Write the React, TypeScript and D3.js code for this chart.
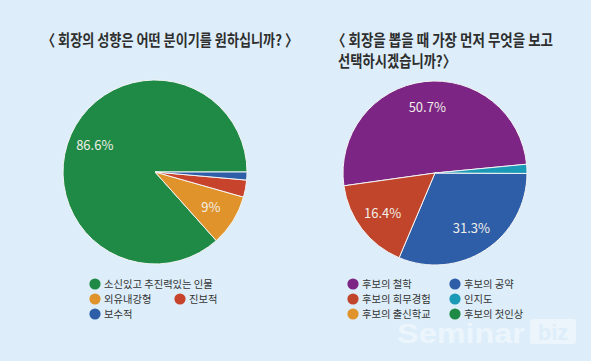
import { useEffect, useRef } from 'react'
import * as d3 from 'd3'

const W = 591
const H = 361
const FONT = '"Noto Sans CJK KR", "Noto Sans", sans-serif'

// left chart: 회장의 성향
const leftCategories = ['소신있고 추진력있는 인물', '외유내강형', '진보적', '보수적']
const leftValues = [86.6, 9.0, 3.0, 1.4]
const leftColors = ['#1f8a45', '#e0932b', '#c8432b', '#2f5ea9']
const leftLabels = ['86.6%', '9%', '', '']

// right chart: 가장 먼저 보는 것
const rightCategories = ['후보의 철학', '후보의 공약', '후보의 회무경험', '인지도', '후보의 출신학교', '후보의 첫인상']
const rightValues = [50.7, 31.3, 16.4, 1.6, 0, 0]
const rightColors = ['#7c2584', '#2f5ea9', '#c0452b', '#1a9ab6', '#e0932b', '#1f8a45']
const rightLabels = ['50.7%', '31.3%', '16.4%', '', '', '']
// clockwise drawing order of slices on the right pie
const rightOrder = [0, 3, 1, 2, 4, 5]

type Slice = { name: string; value: number; color: string; label: string; rank: number }

function makeSlices(names: string[], values: number[], colors: string[], labels: string[], order: number[]): Slice[] {
  return names.map((name, i) => ({ name, value: values[i], color: colors[i], label: labels[i], rank: order.indexOf(i) }))
}

export default function App() {
  const svgRef = useRef<SVGSVGElement>(null)

  useEffect(() => {
    if (!svgRef.current) return
    const svg = d3.select(svgRef.current)
    svg.selectAll('*').remove()

    svg.append('rect').attr('width', W).attr('height', H).attr('fill', '#ddeefa')

    const r = 92
    const arc = d3.arc<d3.PieArcDatum<Slice>>().innerRadius(0).outerRadius(r)
    const labelArc = d3.arc<d3.PieArcDatum<Slice>>().innerRadius(66 * 2 - r).outerRadius(r)

    const drawPie = (slices: Slice[], cx: number, cy: number, start: number, end: number) => {
      const pie = d3.pie<Slice>()
        .value((d) => d.value)
        .sort((a, b) => a.rank - b.rank)
        .startAngle(start)
        .endAngle(end)
      const arcs = pie(slices).filter((a) => a.data.value > 0)
      const g = svg.append('g').attr('transform', `translate(${cx},${cy})`)
      g.selectAll('path')
        .data(arcs)
        .join('path')
        .attr('d', arc)
        .attr('fill', (a) => a.data.color)
        .attr('stroke', '#f4f4f4')
        .attr('stroke-width', 1)
      g.selectAll('text')
        .data(arcs.filter((a) => a.data.label))
        .join('text')
        .attr('transform', (a) => `translate(${labelArc.centroid(a)})`)
        .attr('text-anchor', 'middle')
        .attr('dy', '0.36em')
        .attr('font-family', FONT)
        .attr('font-size', 13)
        .attr('fill', '#f1efe8')
        .text((a) => a.data.label)
    }

    const deg = Math.PI / 180
    // left: counterclockwise from 3 o'clock
    drawPie(makeSlices(leftCategories, leftValues, leftColors, leftLabels, [0, 1, 2, 3]), 155, 172, 90 * deg, 90 * deg - 2 * Math.PI)
    // right: clockwise from just below 9 o'clock
    drawPie(makeSlices(rightCategories, rightValues, rightColors, rightLabels, rightOrder), 435, 173, 262 * deg, 262 * deg + 2 * Math.PI)

    // titles
    const title = (x: number, y: number, txt: string, len: number) =>
      svg.append('text')
        .attr('x', x)
        .attr('y', y)
        .attr('font-family', FONT)
        .attr('font-size', 15.5)
        .attr('font-weight', 'bold')
        .attr('fill', '#2e2e2e')
        .attr('textLength', len)
        .attr('lengthAdjust', 'spacingAndGlyphs')
        .text(txt)
    title(42, 46, '〈 회장의 성향은 어떤 분이기를 원하십니까? 〉', 256)
    title(332, 46, '〈 회장을 뽑을 때 가장 먼저 무엇을 보고', 221)
    title(338, 67, '선택하시겠습니까?〉', 118)

    // legends
    const legend = (names: string[], colors: string[], x0: number, colW: number, y0: number, cols: number[]) => {
      const rowH = 15
      let rowIdx = 0
      const g = svg.append('g')
      names.forEach((n, i) => {
        if (i > 0 && cols[i] === 0) rowIdx++
        const x = x0 + cols[i] * colW
        const y = y0 + rowIdx * rowH
        g.append('circle').attr('cx', x).attr('cy', y).attr('r', 5.6).attr('fill', colors[i])
        g.append('text')
          .attr('x', x + 9)
          .attr('y', y)
          .attr('dy', '0.36em')
          .attr('font-family', FONT)
          .attr('font-size', 10.3)
          .attr('fill', '#333')
          .text(n)
      })
    }
    legend(leftCategories, leftColors, 95, 85, 284, [0, 0, 1, 0])
    legend(rightCategories, rightColors, 353, 102, 284, [0, 1, 0, 1, 0, 1])

    // watermark
    const wm = svg.append('g').attr('opacity', 0.45)
    wm.append('text')
      .attr('x', 397)
      .attr('y', 343)
      .attr('font-family', '"Liberation Sans", Arial, sans-serif')
      .attr('font-size', 27)
      .attr('font-weight', 'bold')
      .attr('fill', '#ffffff')
      .attr('textLength', 128)
      .attr('lengthAdjust', 'spacingAndGlyphs')
      .text('Seminar')
    wm.append('rect').attr('x', 530).attr('y', 319).attr('width', 46).attr('height', 25).attr('rx', 3).attr('fill', '#ffffff')
    wm.append('text')
      .attr('x', 553)
      .attr('y', 340)
      .attr('text-anchor', 'middle')
      .attr('font-family', '"Liberation Sans", Arial, sans-serif')
      .attr('font-size', 22)
      .attr('font-weight', 'bold')
      .attr('fill', '#ddeefa')
      .text('biz')
  }, [])

  return (
    <div style={{ position: 'absolute', left: 0, top: 0 }}>
      <svg ref={svgRef} width={W} height={H} style={{ display: 'block' }} />
    </div>
  )
}
